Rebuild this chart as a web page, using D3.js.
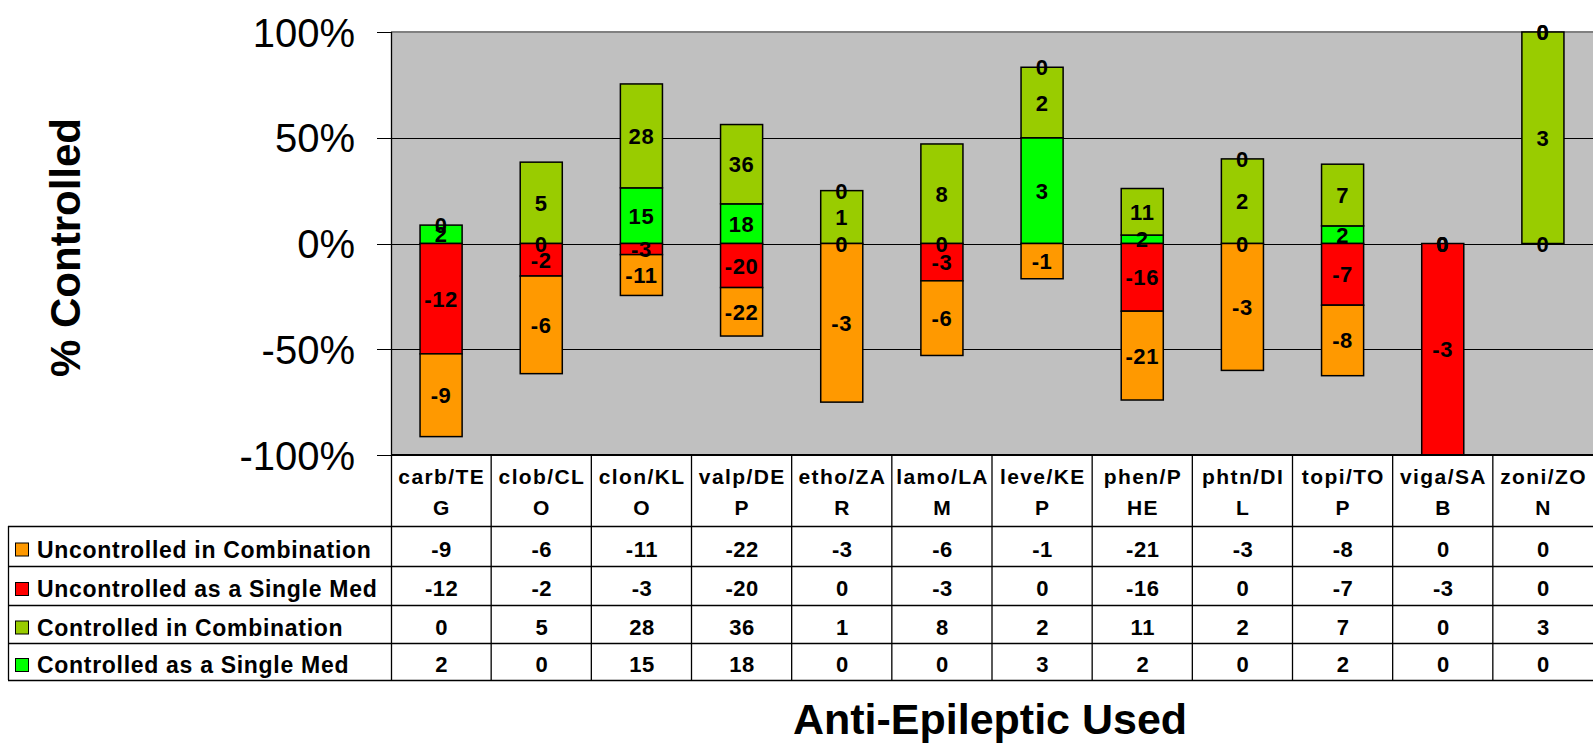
<!DOCTYPE html>
<html>
<head>
<meta charset="utf-8">
<script src="https://cdnjs.cloudflare.com/ajax/libs/d3/7.8.5/d3.min.js"></script>
<style>
  html, body { margin: 0; padding: 0; background: #ffffff; }
  svg { display: block; font-family: "Liberation Sans", Arial, Helvetica, sans-serif; }
</style>
</head>
<body>
<svg id="chart" width="1593" height="744"></svg>
<script>
// Anti-epileptic drugs, header text split over two lines as in the data table
const categories = ["carb/TEG", "clob/CLO", "clon/KLO", "valp/DEP", "etho/ZAR", "lamo/LAM",
                    "leve/KEP", "phen/PHE", "phtn/DIL", "topi/TOP", "viga/SAB", "zoni/ZON"];
const tickLabels = [["carb/TE", "G"], ["clob/CL", "O"], ["clon/KL", "O"], ["valp/DE", "P"],
                    ["etho/ZA", "R"], ["lamo/LA", "M"], ["leve/KE", "P"], ["phen/P", "HE"],
                    ["phtn/DI", "L"], ["topi/TO", "P"], ["viga/SA", "B"], ["zoni/ZO", "N"]];

// Patient counts per drug (uncontrolled counts are negative)
const uncontrolledCombination = [-9, -6, -11, -22, -3, -6, -1, -21, -3, -8, 0, 0];
const uncontrolledSingle      = [-12, -2, -3, -20, 0, -3, 0, -16, 0, -7, -3, 0];
const controlledCombination   = [0, 5, 28, 36, 1, 8, 2, 11, 2, 7, 0, 3];
const controlledSingle        = [2, 0, 15, 18, 0, 0, 3, 2, 0, 2, 0, 0];

const seriesNames = ["Uncontrolled in Combination", "Uncontrolled as a Single Med",
                     "Controlled in Combination", "Controlled as a Single Med"];
const yTicks = [100, 50, 0, -50, -100];

// Table rows (top to bottom) and stacking order (from the zero line outward)
const tableRows = [
  { name: seriesNames[0], values: uncontrolledCombination, color: "#FF9900" },
  { name: seriesNames[1], values: uncontrolledSingle,      color: "#FF0000" },
  { name: seriesNames[2], values: controlledCombination,   color: "#99CC00" },
  { name: seriesNames[3], values: controlledSingle,        color: "#00FF00" }
];
const stackOrder = [3, 2, 1, 0];

const FONT = '"Liberation Sans", Arial, Helvetica, sans-serif';
const svg = d3.select("#chart");

const plot = { left: 391, right: 1593, top: 32, bottom: 455 };
const table = { left: 8, headerBottom: 526, rowH: [40, 39, 38, 37] };

const x = d3.scaleBand()
  .domain(categories)
  .range([plot.left, plot.right])
  .paddingInner(0.58)
  .paddingOuter(0.29);
const step = x.step();
const y = d3.scaleLinear().domain([-100, 100]).range([plot.bottom, plot.top]);

// Plot area
svg.append("rect")
  .attr("x", plot.left).attr("y", plot.top)
  .attr("width", plot.right - plot.left).attr("height", plot.bottom - plot.top)
  .attr("fill", "#C0C0C0");

// Horizontal gridlines
svg.append("g").selectAll("line")
  .data(yTicks.filter(t => t !== 100 && t !== -100))
  .join("line")
  .attr("x1", plot.left).attr("x2", plot.right)
  .attr("y1", d => Math.round(y(d)) + 0.5).attr("y2", d => Math.round(y(d)) + 0.5)
  .attr("stroke", "#000").attr("stroke-width", 1);

svg.append("line")
  .attr("x1", plot.left).attr("x2", plot.right)
  .attr("y1", y(100)).attr("y2", y(100))
  .attr("stroke", "#808080").attr("stroke-width", 2);

// Stacked segments: non-negative values stack upward, negatives downward
const segments = [];
categories.forEach((c, i) => {
  const total = d3.sum(tableRows, r => Math.abs(r.values[i]));
  let up = 0, down = 0;
  stackOrder.forEach(k => {
    const v = tableRows[k].values[i];
    const pct = total ? Math.abs(v) / total * 100 : 0;
    let y0, y1;
    if (v >= 0) { y0 = up; y1 = up + pct; up = y1; }
    else { y1 = down; y0 = down - pct; down = y0; }
    segments.push({ cat: c, value: v, y0, y1, color: tableRows[k].color });
  });
});

svg.append("g").selectAll("rect")
  .data(segments.filter(s => s.y1 > s.y0))
  .join("rect")
  .attr("x", d => x(d.cat))
  .attr("width", x.bandwidth())
  .attr("y", d => y(d.y1))
  .attr("height", d => y(d.y0) - y(d.y1))
  .attr("fill", d => d.color)
  .attr("stroke", "#000")
  .attr("stroke-width", 1.5);

svg.append("g").selectAll("text")
  .data(segments)
  .join("text")
  .attr("x", d => x(d.cat) + x.bandwidth() / 2)
  .attr("y", d => y((d.y0 + d.y1) / 2) + 8)
  .attr("text-anchor", "middle")
  .attr("font-family", FONT)
  .attr("font-weight", "bold")
  .attr("font-size", 22)
  .attr("letter-spacing", 0.6)
  .text(d => d.value);

// Y axis
const yAxis = svg.append("g");
yAxis.append("line")
  .attr("x1", plot.left + 0.5).attr("x2", plot.left + 0.5)
  .attr("y1", plot.top).attr("y2", 681)
  .attr("stroke", "#000").attr("stroke-width", 1.3);
yAxis.selectAll("line.tick")
  .data(yTicks)
  .join("line")
  .attr("class", "tick")
  .attr("x1", plot.left - 14).attr("x2", plot.left)
  .attr("y1", d => Math.round(y(d)) + 0.5).attr("y2", d => Math.round(y(d)) + 0.5)
  .attr("stroke", "#000").attr("stroke-width", 1);
yAxis.selectAll("text")
  .data(yTicks)
  .join("text")
  .attr("x", 355)
  .attr("y", d => y(d) + 14.5)
  .attr("text-anchor", "end")
  .attr("font-family", FONT)
  .attr("font-size", 40)
  .text(d => d + "%");

svg.append("text")
  .attr("transform", "translate(80,247.5) rotate(-90)")
  .attr("text-anchor", "middle")
  .attr("font-family", FONT)
  .attr("font-weight", "bold")
  .attr("font-size", 42)
  .text("% Controlled");

// Data table
const rowTops = [table.headerBottom];
table.rowH.forEach(h => rowTops.push(rowTops[rowTops.length - 1] + h));
const tableBottom = rowTops[rowTops.length - 1];

const grid = svg.append("g").attr("stroke", "#000").attr("stroke-width", 1.3);
// plot bottom / header top
grid.append("line")
  .attr("x1", plot.left).attr("x2", plot.right)
  .attr("y1", plot.bottom).attr("y2", plot.bottom)
  .attr("stroke-width", 2);
// row separators
grid.selectAll("line.row")
  .data(rowTops)
  .join("line")
  .attr("class", "row")
  .attr("x1", table.left).attr("x2", plot.right)
  .attr("y1", d => d + 0.5).attr("y2", d => d + 0.5);
// column separators (category boundaries)
grid.selectAll("line.col")
  .data(categories.slice(1))
  .join("line")
  .attr("class", "col")
  .attr("x1", d => x(d) - x.bandwidth() * 0 - (step - x.bandwidth()) / 2)
  .attr("x2", d => x(d) - (step - x.bandwidth()) / 2)
  .attr("y1", plot.bottom).attr("y2", tableBottom);
// legend column left border
grid.append("line")
  .attr("x1", table.left + 0.5).attr("x2", table.left + 0.5)
  .attr("y1", table.headerBottom).attr("y2", tableBottom);

// Header labels
const header = svg.append("g")
  .attr("font-family", FONT).attr("font-weight", "bold")
  .attr("font-size", 21).attr("letter-spacing", 1.4)
  .attr("text-anchor", "middle");
categories.forEach((c, i) => {
  tickLabels[i].forEach((line, j) => {
    header.append("text")
      .attr("x", x(c) + x.bandwidth() / 2 + 0.7)
      .attr("y", 484 + j * 31)
      .text(line);
  });
});

// Table rows: legend key, series name and counts
tableRows.forEach((r, k) => {
  const top = rowTops[k], bottom = rowTops[k + 1];
  const mid = (top + bottom) / 2;
  svg.append("rect")
    .attr("x", 15.5).attr("y", mid - 3)
    .attr("width", 13).attr("height", 13)
    .attr("fill", r.color).attr("stroke", "#000").attr("stroke-width", 1);
  svg.append("text")
    .attr("x", 37).attr("y", mid + 11.5)
    .attr("font-family", FONT).attr("font-weight", "bold")
    .attr("font-size", 23).attr("letter-spacing", 0.7)
    .text(r.name);
  svg.append("g").selectAll("text")
    .data(r.values)
    .join("text")
    .attr("x", (d, i) => x(categories[i]) + x.bandwidth() / 2 + 0.5)
    .attr("y", mid + 10.5)
    .attr("text-anchor", "middle")
    .attr("font-family", FONT).attr("font-weight", "bold")
    .attr("font-size", 22).attr("letter-spacing", 0.5)
    .text(d => d);
});

// X axis title
svg.append("text")
  .attr("x", 990).attr("y", 734)
  .attr("text-anchor", "middle")
  .attr("font-family", FONT)
  .attr("font-weight", "bold")
  .attr("font-size", 43)
  .text("Anti-Epileptic Used");
</script>
</body>
</html>
